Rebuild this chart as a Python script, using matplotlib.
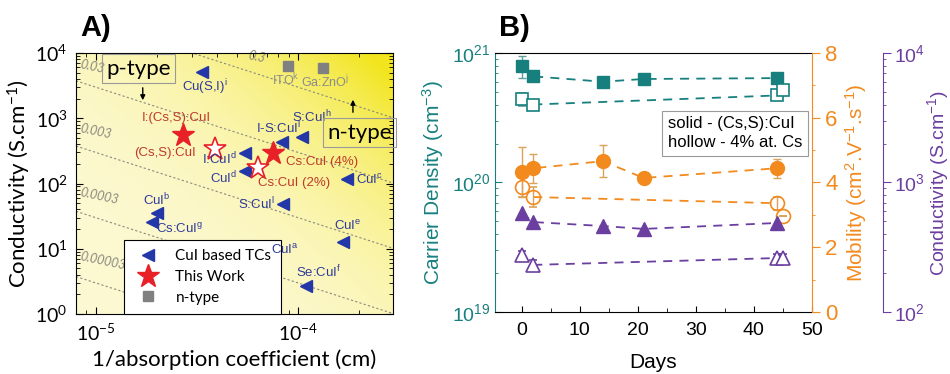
import numpy as np
import matplotlib.pyplot as plt
from matplotlib.ticker import LogLocator, NullFormatter, MultipleLocator

plt.rcParams['mathtext.default'] = 'regular'
plt.rcParams['font.family'] = ['Liberation Sans', 'DejaVu Sans']

# ---- panel A data: 1/alpha (cm) vs conductivity (S/cm)
cui_names = ['Cu(S,I)$^i$', 'I:CuI$^d$', 'CuI$^d$', 'I-S:CuI$^l$', 'S:CuI$^h$', 'CuI$^c$',
             'S:CuI$^l$', 'CuI$^e$', 'CuI$^a$', 'Se:CuI$^f$', 'CuI$^b$', 'Cs:CuI$^g$']
cui_x = [3.35e-5, 5.47e-5, 5.47e-5, 8.34e-5, 1.05e-4, 1.75e-4,
         8.43e-5, 1.67e-4, 6.87e-5, 1.10e-4, 2.0e-5, 1.89e-5]
cui_y = [5110, 293, 155, 432, 516, 117, 48.5, 12.7, 4.72, 2.69, 35.3, 25.7]

work_names = ['I:(Cs,S):CuI', '(Cs,S):CuI', 'Cs:CuI (4%)', 'Cs:CuI (2%)']
work_x = [2.7e-5, 3.88e-5, 7.52e-5, 6.34e-5]
work_y = [554, 338, 293, 173]
work_filled = [True, False, True, False]

ntype_names = ['ITO$^k$', 'Ga:ZnO$^j$']
ntype_x = [8.92e-5, 1.33e-4]
ntype_y = [6310, 5890]

fom_levels = [0.00003, 0.0003, 0.003, 0.03, 0.3]
fom_labels = ['0.00003', '0.0003', '0.003', '0.03', '0.3']

# ---- panel B data: aging over days
days_solid = [0, 2, 14, 21, 44]
days_hollow = [0, 2, 44, 45]
carrier_solid = [7.9e20, 6.6e20, 6.0e20, 6.3e20, 6.4e20]
carrier_solid_err = [1.5e20, 0, 0, 0, 0]
carrier_hollow = [4.4e20, 4.0e20, 4.7e20, 5.2e20]
carrier_hollow_err = [0.5e20, 0, 0.3e20, 0.3e20]
mob_solid = [4.32, 4.44, 4.66, 4.14, 4.44]
mob_solid_err = [0.77, 0.45, 0.5, 0, 0.3]
mob_hollow = [3.86, 3.55, 3.36, 2.96]
mob_hollow_err = [0.3, 0.3, 0.2, 0]
cond_solid = [581, 495, 461, 438, 487]
cond_hollow = [275, 231, 261, 261]
cond_hollow_err = [20, 20, 20, 20]

BLUE = '#2437A8'
BLUE_TXT = '#2E3A9A'
RED = '#E82028'
RED_TXT = '#C0392B'
GREY = '#808080'
TEAL = '#17807E'
ORANGE = '#F28A1E'
PURPLE = '#6B3FA0'

fig = plt.figure(figsize=(9.5, 3.74), dpi=100)

# ================= panel A =================
axA = fig.add_axes([0.080, 0.1604, 0.3337, 0.6979])
axA.set_xscale('log')
axA.set_yscale('log')
xlo, xhi, ylo, yhi = 8e-6, 2.95e-4, 1, 1e4
axA.set_xlim(xlo, xhi)
axA.set_ylim(ylo, yhi)

# yellow gradient background, brightest at the top right
gx, gy = np.meshgrid(np.linspace(0, 1, 300), np.linspace(0, 1, 300))
t = np.clip(gx * 0.55 + gy * 0.5, 0, 1) ** 3.2
c0 = np.array([0.99, 0.975, 0.82])
c1 = np.array([0.95, 0.90, 0.12])
img = c0[None, None, :] * (1 - t[..., None]) + c1[None, None, :] * t[..., None]
axA.imshow(img, extent=[0, 1, 0, 1], transform=axA.transAxes, origin='lower',
           aspect='auto', zorder=0)

# constant sigma*(1/alpha) lines
xx = np.logspace(np.log10(xlo), np.log10(xhi), 100)
for lev, lab in zip(fom_levels, fom_labels):
    axA.plot(xx, lev / xx, color='#8a8a80', lw=0.8, ls=(0, (2, 2)), zorder=1)
    lx = 5.6e-5 if lev == 0.3 else 8.3e-6
    axA.text(lx, lev / lx * 1.25, lab, color='#8a8a80', fontsize=9, style='italic',
             rotation=-12, ha='left', va='bottom', family='Lato', zorder=2)

axA.plot(cui_x, cui_y, '<', color=BLUE, ms=9, ls='none', label='CuI based TCs', zorder=4)
for i, (x, y) in enumerate(zip(work_x, work_y)):
    if work_filled[i]:
        axA.plot(x, y, '*', color=RED, ms=17, ls='none',
                 label='This Work' if i == 0 else None, zorder=5)
    else:
        axA.plot(x, y, '*', mfc='white', mec=RED, mew=1.2, ms=17, ls='none', zorder=5)
axA.plot(ntype_x, ntype_y, 's', color=GREY, ms=7, ls='none', label='n-type', zorder=4)

cui_offsets = [(3, -15), (-8, -6), (-8, -7), (-4, 14), (10, 20), (9, -1),
               (-8, 0), (5, 16), (20, 20), (12, 14), (0, 13), (28, -7)]
cui_ha = ['center', 'right', 'right', 'center', 'center', 'left',
          'right', 'center', 'center', 'center', 'center', 'center']
for n, x, y, off, ha in zip(cui_names, cui_x, cui_y, cui_offsets, cui_ha):
    axA.annotate(n, (x, y), xytext=off, textcoords='offset pixels', ha=ha, va='center',
                 fontsize=9.5, color=BLUE_TXT, zorder=6)
work_offsets = [(-7, 17), (-50, -4), (49, -9), (36, -15)]
for n, x, y, off in zip(work_names, work_x, work_y, work_offsets):
    axA.annotate(n, (x, y), xytext=off, textcoords='offset pixels', ha='center',
                 va='center', fontsize=9.5, color=RED_TXT, zorder=6)
ntype_offsets = [(-2, -14), (2, -14)]
for n, x, y, off in zip(ntype_names, ntype_x, ntype_y, ntype_offsets):
    axA.annotate(n, (x, y), xytext=off, textcoords='offset pixels', ha='center',
                 va='center', fontsize=9, color='#8c8c8c', zorder=6)

# p-type / n-type boxes
box = dict(boxstyle='square,pad=0.2', fc='none', ec='#9a9a9a', lw=0.8)
axA.text(0.198, 0.94, 'p-type', transform=axA.transAxes, ha='center', va='center',
         fontsize=16, family='Lato', bbox=box, zorder=6)
axA.text(0.895, 0.695, 'n-type', transform=axA.transAxes, ha='center', va='center',
         fontsize=16, family='Lato', bbox=box, zorder=6)
axA.annotate('', xy=(1.71e-5, 1710), xytext=(1.71e-5, 3230),
             arrowprops=dict(arrowstyle='-|>', color='black', lw=1, mutation_scale=7))
axA.annotate('', xy=(1.87e-4, 2120), xytext=(1.87e-4, 1120),
             arrowprops=dict(arrowstyle='-|>', color='black', lw=1, mutation_scale=7))

leg = axA.legend(loc='lower left', bbox_to_anchor=(0.15, 0.0), fancybox=False,
                 edgecolor='black', framealpha=1, borderaxespad=0,
                 prop={'family': 'Lato', 'size': 11}, handletextpad=0.8,
                 borderpad=0.6, labelspacing=0.45)
leg.get_frame().set_linewidth(0.8)

axA.tick_params(which='both', direction='in', top=True, right=True)
axA.tick_params(which='major', length=5, labelsize=14, pad=6)
axA.tick_params(which='minor', length=3)
axA.yaxis.set_major_locator(LogLocator(base=10, numticks=10))
axA.yaxis.set_minor_locator(LogLocator(base=10, subs=np.arange(2, 10), numticks=10))
axA.yaxis.set_minor_formatter(NullFormatter())
axA.xaxis.set_minor_formatter(NullFormatter())
for lbl in axA.get_xticklabels() + axA.get_yticklabels():
    lbl.set_family('Lato')
axA.set_xlabel('1/absorption coefficient (cm)', fontsize=16, family='Lato', labelpad=4)
axA.set_ylabel('Conductivity (S.cm$^{-1}$)', fontsize=16, family='Lato', labelpad=2)
fig.text(0.085, 0.925, 'A)', fontsize=21, fontweight='bold', va='center')

# ================= panel B =================
axB = fig.add_axes([0.521, 0.1658, 0.3337, 0.6925])
axM = axB.twinx()
axC = axB.twinx()
axC.spines['right'].set_position(('axes', 1.224))

dash = (0, (5, 4))
axB.set_yscale('log')
axB.set_ylim(1e19, 1e21)
axB.set_xlim(-4.6, 50)
axB.errorbar(days_solid, carrier_solid, yerr=carrier_solid_err, fmt='s', color=TEAL,
             ms=9, ecolor='#5F9E9C', elinewidth=1, capsize=3, zorder=3)
axB.plot(days_solid, carrier_solid, ls=dash, color=TEAL, lw=1.3, zorder=2)
axB.errorbar(days_hollow, carrier_hollow, yerr=carrier_hollow_err, fmt='s', mfc='white',
             mec=TEAL, mew=1.2, ms=9, ecolor='#5F9E9C', elinewidth=1, capsize=3, zorder=3)
axB.plot(days_hollow[1:3], carrier_hollow[1:3], ls=dash, color=TEAL, lw=1.3, zorder=2)

axM.set_ylim(0, 8)
axM.errorbar(days_solid, mob_solid, yerr=mob_solid_err, fmt='o', color=ORANGE, ms=10,
             ecolor='#D9A35A', elinewidth=1, capsize=3, zorder=3)
axM.plot(days_solid, mob_solid, ls=dash, color=ORANGE, lw=1.3, zorder=2)
axM.errorbar(days_hollow, mob_hollow, yerr=mob_hollow_err, fmt='o', mfc='none',
             mec=ORANGE, mew=1.2, ms=10, ecolor='#D9A35A', elinewidth=1, capsize=3, zorder=3)
axM.plot(days_hollow[1:3], mob_hollow[1:3], ls=dash, color=ORANGE, lw=1.3, zorder=2)

axC.set_yscale('log')
axC.set_ylim(1e2, 1e4)
axC.plot(days_solid, cond_solid, '^', color=PURPLE, ms=10, ls='none', zorder=3)
axC.plot(days_solid, cond_solid, ls=dash, color=PURPLE, lw=1.3, zorder=2)
axC.errorbar(days_hollow, cond_hollow, yerr=cond_hollow_err, fmt='^', mfc='white',
             mec=PURPLE, mew=1.2, ms=10, ecolor=PURPLE, elinewidth=0.8, capsize=3, zorder=3)
axC.plot(days_hollow[1:3], cond_hollow[1:3], ls=dash, color=PURPLE, lw=1.3, zorder=2)

# spines and ticks
axB.spines['left'].set_color(TEAL)
axB.spines['right'].set_visible(False)
axM.spines['right'].set_color(ORANGE)
for s in ['left', 'top', 'bottom']:
    axM.spines[s].set_visible(False)
    axC.spines[s].set_visible(False)
axC.spines['right'].set_color(PURPLE)

axB.xaxis.set_major_locator(MultipleLocator(10))
axB.xaxis.set_minor_locator(MultipleLocator(5))
axB.tick_params(axis='x', which='both', direction='in', labelsize=14, pad=7)
axB.tick_params(axis='x', which='major', length=4)
axB.tick_params(axis='x', which='minor', length=3)
axB.tick_params(axis='y', which='both', direction='in', colors=TEAL, labelsize=14)
axB.tick_params(axis='y', which='major', length=5)
axB.yaxis.set_minor_locator(LogLocator(base=10, subs=np.arange(2, 10), numticks=10))
axB.yaxis.set_minor_formatter(NullFormatter())

axM.yaxis.set_major_locator(MultipleLocator(2))
axM.yaxis.set_minor_locator(MultipleLocator(1))
axM.tick_params(axis='y', which='both', direction='out', colors=ORANGE, labelsize=16)
axM.tick_params(axis='y', which='major', length=6)

axC.yaxis.set_minor_locator(LogLocator(base=10, subs=np.arange(2, 10), numticks=10))
axC.yaxis.set_minor_formatter(NullFormatter())
axC.tick_params(axis='y', which='both', direction='out', colors=PURPLE, labelsize=14, pad=2)
axC.tick_params(axis='y', which='major', length=6)

axB.set_xlabel('Days', fontsize=15, labelpad=10)
axB.set_ylabel('Carrier Density (cm$^{-3}$)', fontsize=15, color=TEAL, labelpad=4)
axM.set_ylabel('Mobility (cm$^{2}$.V$^{-1}$.s$^{-1}$)', fontsize=15, color=ORANGE, labelpad=4)
axC.set_ylabel('Conductivity (S.cm$^{-1}$)', fontsize=14, color=PURPLE, labelpad=0)

axC.text(0.545, 0.69, 'solid - (Cs,S):CuI\nhollow - 4% at. Cs', transform=axB.transAxes,
         fontsize=12, ha='left', va='center', linespacing=1.3, zorder=10,
         bbox=dict(boxstyle='square,pad=0.35', fc='white', ec='#9a9a9a', lw=0.8))
fig.text(0.525, 0.925, 'B)', fontsize=21, fontweight='bold', va='center')

fig.savefig('out.png', dpi=100)
